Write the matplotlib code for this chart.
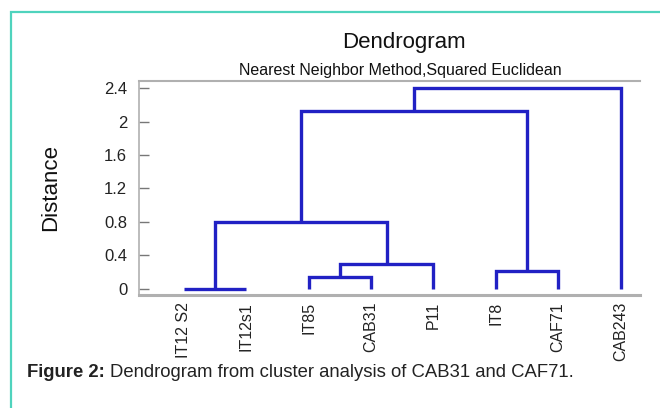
import matplotlib.pyplot as plt
from matplotlib.patches import Rectangle
import numpy as np

plt.rcParams['font.family'] = ['Liberation Sans', 'DejaVu Sans']

leaves = ['IT12 S2', 'IT12s1', 'IT85', 'CAB31', 'P11', 'IT8', 'CAF71', 'CAB243']
# linkage: clusters 0-7 are leaves, each merge creates cluster 8, 9, ...
merge_a = [0, 2, 5, 9, 8, 12, 13]
merge_b = [1, 3, 6, 4, 11, 10, 7]
merge_h = [0.0, 0.14, 0.22, 0.30, 0.80, 2.12, 2.40]
yticks = [0, 0.4, 0.8, 1.2, 1.6, 2, 2.4]
ytick_labels = ['0', '0.4', '0.8', '1.2', '1.6', '2', '2.4']

fig = plt.figure(figsize=(6.6, 4.08), dpi=100)
ax = fig.add_axes([0.2106, 0.277, 0.759, 0.5245])

line_color = '#2121c4'
xpos = {i: float(i) for i in range(len(leaves))}
hpos = {i: 0.0 for i in range(len(leaves))}
for k, (a, b, h) in enumerate(zip(merge_a, merge_b, merge_h)):
    xa, xb = xpos[a], xpos[b]
    ax.plot([xa, xa, xb, xb], [hpos[a], h, h, hpos[b]], color=line_color, lw=2.4,
            solid_joinstyle='miter', solid_capstyle='butt')
    new = len(leaves) + k
    xpos[new] = (xa + xb) / 2
    hpos[new] = h

ax.set_xlim(-0.72, 7.31)
ax.set_ylim(-0.072, 2.484)
ax.set_xticks(range(len(leaves)))
ax.set_xticklabels(leaves, rotation=90, fontsize=11.5, color='#222222')
ax.tick_params(axis='x', length=0, pad=5)
ax.set_yticks(yticks)
ax.set_yticklabels(ytick_labels, fontsize=12, color='#222222')
ax.tick_params(axis='y', direction='in', length=7, width=1, color='#777777', pad=8.5)
ax.set_ylabel('Distance', fontsize=16, color='#111111')
ax.yaxis.set_label_coords(-0.155, 0.5)

for side in ['left', 'top', 'bottom']:
    ax.spines[side].set_color('#b0b0b0')
ax.spines['left'].set_linewidth(1.2)
ax.spines['top'].set_linewidth(1.5)
ax.spines['bottom'].set_linewidth(2.2)
ax.spines['right'].set_visible(False)

fig.text(0.612, 0.895, 'Dendrogram', ha='center', va='center', fontsize=16, color='#111111')
fig.text(0.606, 0.826, 'Nearest Neighbor Method,Squared Euclidean', ha='center', va='center',
         fontsize=11.5, color='#111111')

bold = fig.text(0.041, 0.087, 'Figure 2:', ha='left', va='center', fontsize=13.3,
                fontweight='bold', color='#222222')
renderer = fig.canvas.get_renderer()
bb = bold.get_window_extent(renderer=renderer)
fig.text((bb.x1 + 5) / fig.bbox.width, 0.087, 'Dendrogram from cluster analysis of CAB31 and CAF71.',
         ha='left', va='center', fontsize=13.3, color='#222222')

# teal frame round the figure panel
fig.patches.append(Rectangle((11 / 660, -0.1), 1.0, 1 - 12 / 408 + 0.1, transform=fig.transFigure,
                             fill=False, edgecolor='#4fd3bd', lw=1.6))

fig.savefig('out.png', dpi=100)
